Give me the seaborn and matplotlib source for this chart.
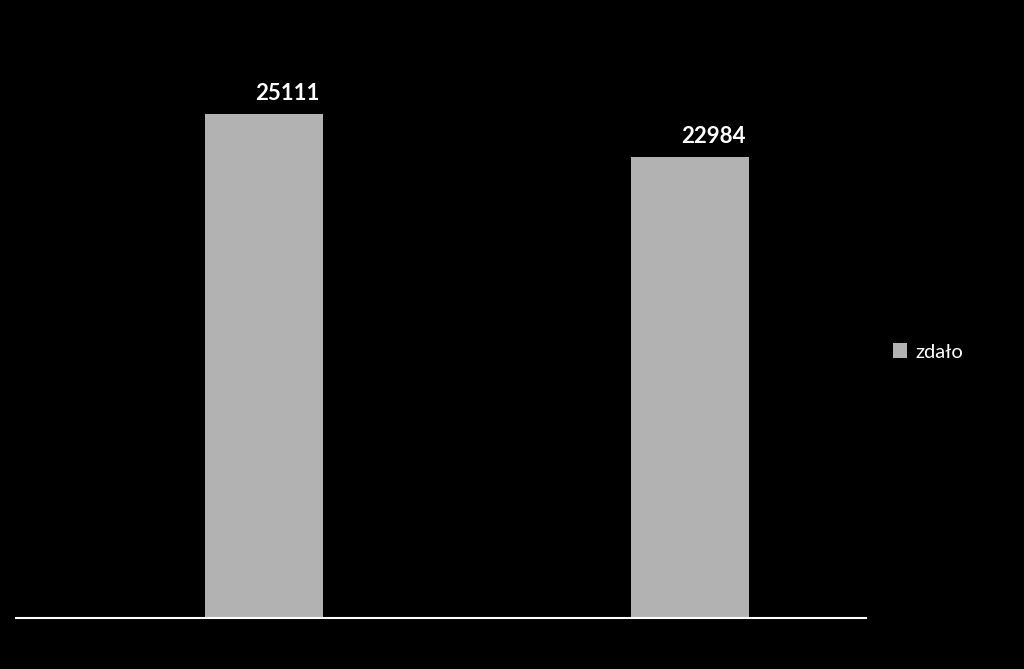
import pandas as pd
import matplotlib.pyplot as plt
import seaborn as sns
from matplotlib.patches import Patch

# data (category names are not visible)
categories = ["kat1", "kat2"]
values = [25111, 22984]
series_name = "zdało"

df = pd.DataFrame({"kategoria": categories, "wartosc": values})

sns.set_style("white")
plt.rcParams['font.family'] = ['Lato', 'DejaVu Sans']

fig = plt.figure(figsize=(10.24, 6.69), dpi=100, facecolor="black")
ax = fig.add_axes([16 / 1024, 51 / 669, 850 / 1024, 602 / 669])
ax.set_facecolor("black")

sns.barplot(data=df, x="kategoria", y="wartosc", color="#b2b2b2",
            saturation=1, width=0.277, edgecolor="none", linewidth=0, ax=ax)

ax.set_xlim(-0.582, 1.413)
ax.set_ylim(0, 30000)

# value labels, a bit right of bar centre like in the original
for i, v in enumerate(values):
    ax.annotate(str(v), xy=(i, v), xytext=(17, 7), textcoords="offset points",
                ha="center", va="bottom", color="white", fontsize=16,
                fontweight="bold")

for side in ["top", "right", "left"]:
    ax.spines[side].set_visible(False)
ax.spines["bottom"].set_color("white")
ax.spines["bottom"].set_linewidth(1.5)
ax.set_xticks([])
ax.set_yticks([])
ax.set_xlabel("")
ax.set_ylabel("")

handle = Patch(facecolor="#b2b2b2", edgecolor="none")
leg = fig.legend([handle], [series_name], loc="center left",
                 bbox_to_anchor=(875 / 1024, 1 - 352 / 669), frameon=False,
                 fontsize=14.5, handlelength=0.7, handleheight=0.7,
                 handletextpad=0.4)
for t in leg.get_texts():
    t.set_color("white")

fig.savefig("out.png", dpi=100, facecolor="black")
